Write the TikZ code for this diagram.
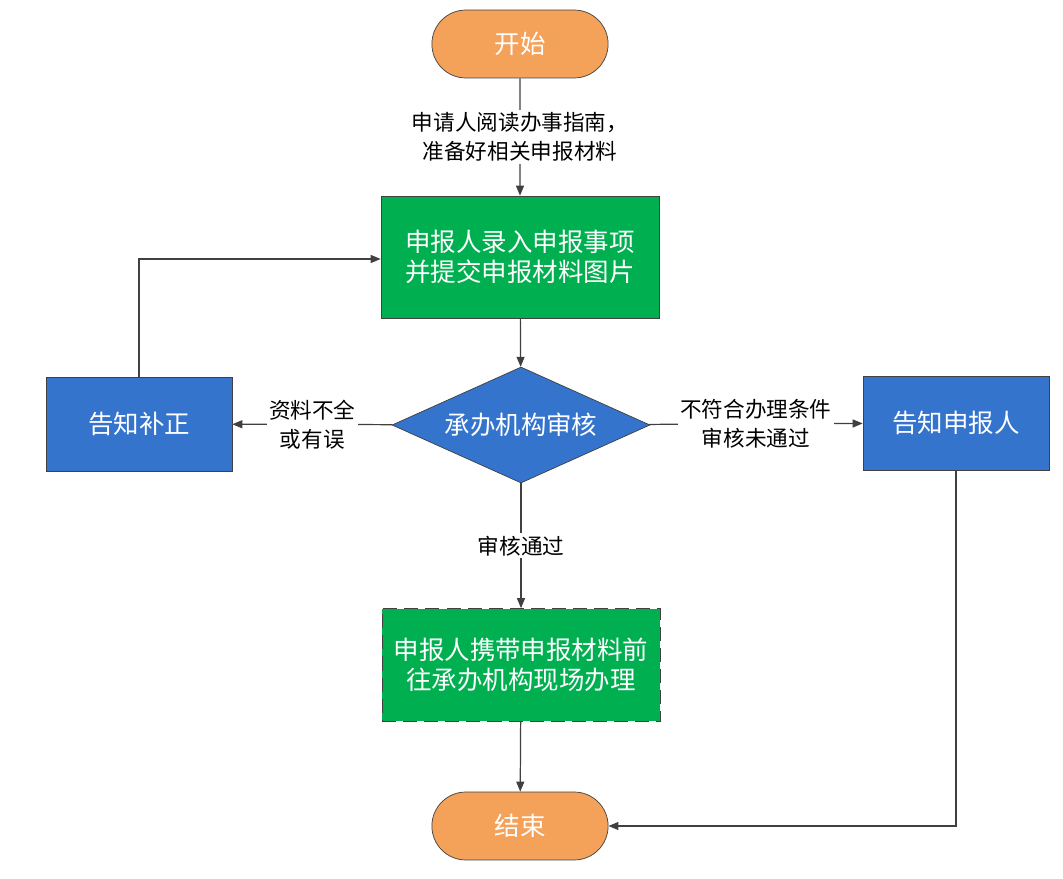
\documentclass[tikz,border=0pt]{standalone}
\usepackage{fontspec}
\setmainfont{Noto Sans CJK SC}
\usetikzlibrary{arrows.meta,shapes.geometric,shapes.misc}
\definecolor{termorange}{HTML}{F4A15A}
\definecolor{stepgreen}{HTML}{00B050}
\definecolor{stepblue}{HTML}{3474CC}
\definecolor{linegray}{HTML}{404040}
\tikzset{
  boxtext/.style={text=white,font=\fontsize{14.5}{17}\selectfont,align=center},
  terminal/.style={rounded rectangle,draw=linegray,fill=termorange,boxtext,
    minimum width=3.76cm,minimum height=1.36cm},
  greenbox/.style={rectangle,draw=linegray,fill=stepgreen,boxtext,
    minimum width=5.56cm,minimum height=2.44cm},
  bluebox/.style={rectangle,draw=linegray,fill=stepblue,boxtext,
    minimum width=3.72cm,minimum height=1.88cm},
  check/.style={diamond,aspect=2.22,draw=linegray,fill=stepblue,boxtext,
    minimum width=5.16cm,minimum height=2.32cm,inner sep=0pt},
  flow/.style={draw=linegray,line width=0.7pt,-{Triangle[length=2mm,width=1.6mm]}},
  edgetext/.style={fill=white,text=black,font=\fontsize{12.3}{16.5}\selectfont,
    align=center,inner sep=1.5pt}
}
\begin{document}
\begin{tikzpicture}[x=0.02cm,y=-0.02cm]
  \useasboundingbox (0,0) rectangle (1063,879);
  % nodes
  \node[terminal] (start) at (520,44) {开始};
  \node[greenbox] (submit) at (520,257) {申报人录入申报事项\\并提交申报材料图片};
  \node[check] (review) at (521,425) {承办机构审核};
  \node[bluebox] (supplement) at (139,424) {告知补正};
  \node[bluebox] (notify) at (956,423) {告知申报人};
  \node[greenbox,dashed,dash pattern=on 8pt off 4pt,minimum height=2.26cm] (onsite) at (521,665)
    {申报人携带申报材料前\\往承办机构现场办理};
  \node[terminal] (finish) at (520,826) {结束};
  % connectors
  \draw[flow] (start) -- node[edgetext] {申请人阅读办事指南，\\准备好相关申报材料} (submit);
  \draw[flow] (submit) -- (review);
  \draw[flow] (review) -- node[edgetext] {资料不全\\或有误} (supplement);
  \draw[flow] (review) -- node[edgetext] {不符合办理条件\\审核未通过} (notify);
  \draw[flow] (review) -- node[edgetext] {审核通过} (onsite);
  \draw[flow] (onsite) -- (finish);
  \draw[flow] (supplement.north) |- (submit.west |- 0,259);
  \draw[flow] (notify.south) |- (finish.east);
\end{tikzpicture}
\end{document}
